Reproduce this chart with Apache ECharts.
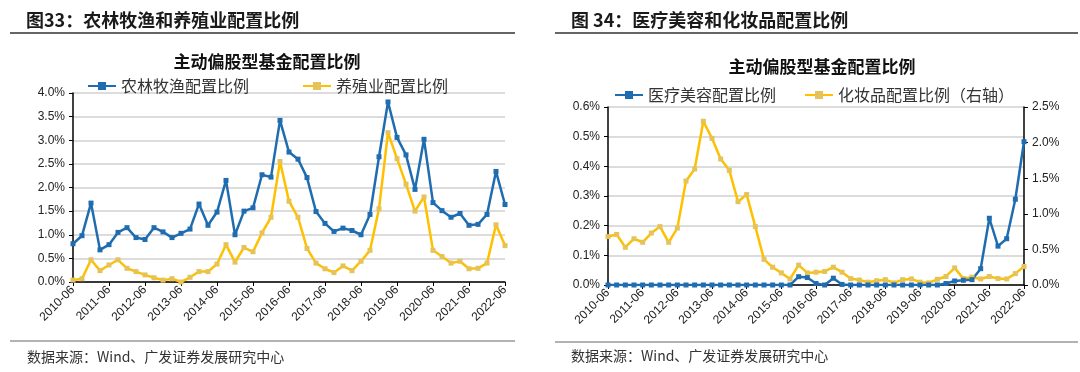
<!DOCTYPE html>
<html>
<head>
<meta charset="utf-8">
<script src="https://cdn.jsdelivr.net/npm/echarts@6/dist/echarts.min.js"></script>
<style>
html,body{margin:0;padding:0;background:#fff;}
#c{width:1080px;height:372px;}
</style>
</head>
<body>
<div id="c"></div>
<script>
const categories = [
 '2010-06','2010-09','2010-12','2011-03','2011-06','2011-09','2011-12','2012-03',
 '2012-06','2012-09','2012-12','2013-03','2013-06','2013-09','2013-12','2014-03',
 '2014-06','2014-09','2014-12','2015-03','2015-06','2015-09','2015-12','2016-03',
 '2016-06','2016-09','2016-12','2017-03','2017-06','2017-09','2017-12','2018-03',
 '2018-06','2018-09','2018-12','2019-03','2019-06','2019-09','2019-12','2020-03',
 '2020-06','2020-09','2020-12','2021-03','2021-06','2021-09','2021-12','2022-03',
 '2022-06'
];
// Left panel (%)
const agriValues = [0.81,0.98,1.67,0.68,0.79,1.05,1.15,0.94,0.90,1.15,1.06,0.94,1.03,1.12,1.65,1.20,
 1.48,2.15,1.00,1.50,1.57,2.27,2.22,3.42,2.75,2.60,2.21,1.49,1.24,1.07,1.14,1.09,
 1.00,1.43,2.65,3.81,3.06,2.69,1.96,3.02,1.68,1.51,1.37,1.45,1.20,1.22,1.43,2.34,1.64];
const breedValues = [0.04,0.07,0.47,0.24,0.36,0.47,0.29,0.22,0.15,0.09,0.04,0.07,0.00,0.10,0.22,0.22,
 0.38,0.79,0.42,0.73,0.64,1.04,1.37,2.55,1.71,1.37,0.71,0.40,0.28,0.20,0.34,0.24,
 0.44,0.67,1.55,3.16,2.61,2.07,1.50,1.80,0.67,0.54,0.40,0.44,0.28,0.29,0.40,1.21,0.77];
// Right panel (%)
const beautyValues = [0,0,0,0,0,0,0,0,0,0,0,0,0,0,0,0,
 0,0,0,0,0,0,0.028,0.025,0.005,0,0.023,0.002,0,0,0,0,
 0,0,0,0,0,0,0,0.005,0.0135,0.016,0.018,0.055,0.225,0.131,0.156,0.289,0.483];
const cosmeticValues = [0.68,0.71,0.53,0.65,0.60,0.73,0.82,0.60,0.80,1.46,1.63,2.30,2.06,1.77,1.61,1.17,
 1.27,0.82,0.36,0.25,0.17,0.085,0.28,0.17,0.18,0.19,0.25,0.18,0.09,0.07,0.04,0.06,
 0.075,0.03,0.075,0.085,0.04,0.03,0.08,0.12,0.24,0.09,0.11,0.085,0.12,0.09,0.085,0.16,0.26];
const leftTicks = {min:0, max:4, interval:0.5};
const rightTicksL = {min:0, max:0.6, interval:0.1};
const rightTicksR = {min:0, max:2.5, interval:0.5};

const BLUE = '#1F6DB0', YEL = '#FFC000', YELM = '#E3C35A';
const CJK = '"Noto Sans CJK SC", sans-serif';
const LAT = '"Liberation Sans", Arial, sans-serif';

function xAxis(gi){
  return {
    type:'category', gridIndex:gi, data:categories, boundaryGap:false,
    axisLine:{lineStyle:{color:'#000',width:1.5}},
    axisTick:{interval:3,length:4,lineStyle:{color:'#000'}},
    axisLabel:{interval:3,rotate:45,fontFamily:LAT,fontSize:12,color:'#222',margin:6}
  };
}
function yAxis(gi,t,pos,split){
  return {
    type:'value', gridIndex:gi, position:pos, min:t.min, max:t.max, interval:t.interval,
    axisLine:{show:true,lineStyle:{color:'#000',width:1.5}},
    axisTick:{show:true,length:4,lineStyle:{color:'#000'}},
    axisLabel:{fontFamily:LAT,fontSize:12,color:'#222',margin:8,
      formatter:v=>v.toFixed(1)+'%'},
    splitLine:{show:split,lineStyle:{color:'#D0D0D0',width:1.5}}
  };
}
function line(name,data,xi,yi,col,mcol){
  return {name,type:'line',data,xAxisIndex:xi,yAxisIndex:yi,symbol:'rect',symbolSize:5,
    showSymbol:true,lineStyle:{color:col,width:2.5},itemStyle:{color:mcol,borderWidth:0},
    emphasis:{disabled:true},animation:false};
}
const legText = {fontFamily:CJK,fontSize:16,color:'#333'};

const chart = echarts.init(document.getElementById('c'),null,{renderer:'canvas'});
chart.setOption({
  animation:false,
  title:[
    {text:'图33：农林牧渔和养殖业配置比例',left:21,top:6,
      textStyle:{fontFamily:CJK,fontSize:18,fontWeight:'bold',color:'#1a1a1a'}},
    {text:'图 34：医疗美容和化妆品配置比例',left:566,top:6,
      textStyle:{fontFamily:CJK,fontSize:18,fontWeight:'bold',color:'#1a1a1a'}},
    {text:'主动偏股型基金配置比例',left:262,top:48,textAlign:'center',
      textStyle:{fontFamily:CJK,fontSize:17,fontWeight:'bold',color:'#111'}},
    {text:'主动偏股型基金配置比例',left:817,top:53,textAlign:'center',
      textStyle:{fontFamily:CJK,fontSize:17,fontWeight:'bold',color:'#111'}},
    {text:'数据来源：Wind、广发证券发展研究中心',left:22,top:345,
      textStyle:{fontFamily:CJK,fontSize:14,fontWeight:'normal',color:'#333'}},
    {text:'数据来源：Wind、广发证券发展研究中心',left:566,top:344,
      textStyle:{fontFamily:CJK,fontSize:14,fontWeight:'normal',color:'#333'}}
  ],
  graphic:[
    {type:'line',shape:{x1:10,y1:33,x2:515,y2:33},style:{stroke:'#333',lineWidth:1.5}},
    {type:'line',shape:{x1:555,y1:33,x2:1078,y2:33},style:{stroke:'#333',lineWidth:1.5}},
    {type:'line',shape:{x1:10,y1:341,x2:515,y2:341},style:{stroke:'#666',lineWidth:1}},
    {type:'line',shape:{x1:555,y1:342,x2:1078,y2:342},style:{stroke:'#666',lineWidth:1}}
  ],
  legend:[
    {data:['农林牧渔配置比例'],left:82,top:73,itemWidth:28,itemHeight:10,textStyle:legText},
    {data:['养殖业配置比例'],left:297,top:73,itemWidth:28,itemHeight:10,textStyle:legText},
    {data:['医疗美容配置比例'],left:609,top:82,itemWidth:28,itemHeight:10,textStyle:legText},
    {data:['化妆品配置比例（右轴）'],left:799,top:82,itemWidth:28,itemHeight:10,textStyle:legText}
  ],
  grid:[
    {left:73,top:93,width:432,height:189,containLabel:false},
    {left:608,top:107,width:416,height:178,containLabel:false}
  ],
  xAxis:[xAxis(0),xAxis(1)],
  yAxis:[
    yAxis(0,leftTicks,'left',true),
    yAxis(1,rightTicksL,'left',true),
    yAxis(1,rightTicksR,'right',false)
  ],
  series:[
    line('农林牧渔配置比例',agriValues,0,0,BLUE,BLUE),
    line('养殖业配置比例',breedValues,0,0,YEL,YELM),
    line('化妆品配置比例（右轴）',cosmeticValues,1,2,YEL,YELM),
    line('医疗美容配置比例',beautyValues,1,1,BLUE,BLUE)
  ]
});
</script>
</body>
</html>
